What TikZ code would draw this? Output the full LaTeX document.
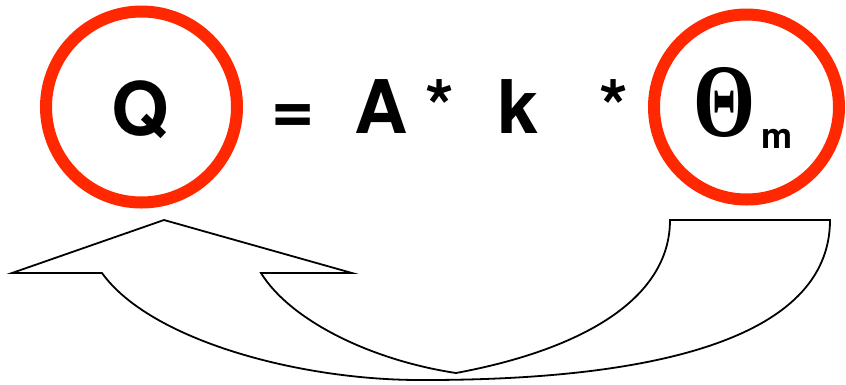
\documentclass[tikz,border=0pt]{standalone}
\usepackage{fontspec}
\setmainfont{TeX Gyre Heros}
\newfontfamily\thetafont{Liberation Serif}
\definecolor{ringred}{RGB}{255,40,0}
\begin{document}
\begin{tikzpicture}[x=1pt,y=-1pt,
  ring/.style={circle,draw=ringred,line width=12pt,inner sep=0pt},
  term/.style={inner sep=0pt,anchor=base,font=\fontsize{74}{80}\selectfont\bfseries},
  ribbon/.style={draw=black,fill=white,line width=1.8pt,line join=miter}]
\useasboundingbox (0,0) rectangle (846,384);
% curved arrow
\coordinate (tip) at (164,220);
\coordinate (lb) at (12,273);
\coordinate (rb) at (352,273);
\coordinate (li) at (102,273);
\coordinate (ri) at (261,273);
\coordinate (ti) at (670,220);
\coordinate (to) at (830,220);
\coordinate (bo) at (425,380);
\coordinate (mi) at (456,373);
\draw[ribbon] (ti) -- (to)
  .. controls (830,340) and (650,380) .. (bo)
  .. controls (300,381) and (150,340) .. (li)
  -- (lb) -- (tip) -- (rb) -- (ri)
  .. controls (290,320) and (370,360) .. (mi)
  .. controls (580,350) and (670,300) .. (ti) -- cycle;
% circles
\node[ring,minimum size=191pt] (cQ) at (141.5,107) {};
\node[ring,minimum size=185pt] (cT) at (746.5,107) {};
% terms
\node[term] (Q) at (140,135) {Q};
\node[term] (eq) at (293.5,133) {=};
\node[term] (A) at (381,133) {A};
\node[term] (s1) at (439.5,133) {*};
\node[term] (k) at (518.5,133) {k};
\node[term] (s2) at (613.5,133) {*};
\node[inner sep=0pt] (th) at (724,102.5) {\resizebox{62pt}{69pt}{\thetafont\bfseries Θ}};
\node[inner sep=0pt,anchor=base,font=\fontsize{35}{40}\selectfont\bfseries] (m) at (777.5,148) {m};
\end{tikzpicture}
\end{document}
